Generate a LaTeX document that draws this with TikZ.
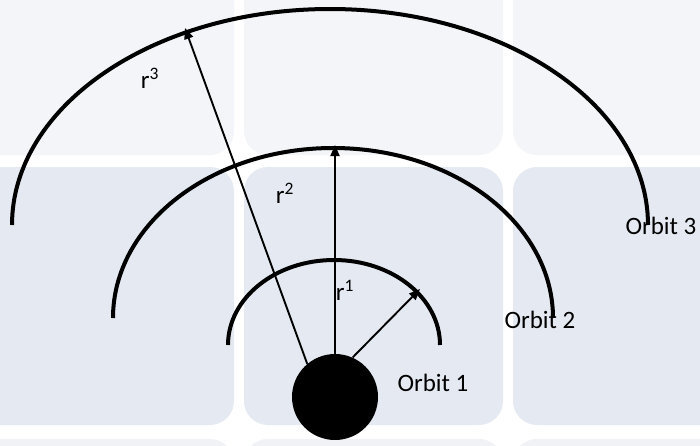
\documentclass[tikz,border=0pt]{standalone}
\usepackage{fontspec}
\setmainfont{Carlito}
\usetikzlibrary{arrows.meta}

\definecolor{tileTop}{HTML}{F3F5F8}
\definecolor{tileMid}{HTML}{E5EAF2}
\definecolor{tileLow}{HTML}{F0F2F6}

\tikzset{
  tile/.style={rounded corners=24pt},
  orbit/.style={line width=4pt},
  radius arrow/.style={line width=1.9pt, -{Triangle[length=11pt,width=9pt]}},
  lbl/.style={font=\fontsize{25}{30}\selectfont, inner sep=0pt},
}

\begin{document}
\begin{tikzpicture}[x=1pt, y=-1pt]
  \useasboundingbox (0,0) rectangle (700,445);

  % -- Background tiles --
  \begin{scope}
    \clip (0,0) rectangle (700,445);
    \fill[white] (0,0) rectangle (700,445);
    \foreach \xa/\xb in {-30/234, 244/503, 513/730}{
      \fill[tile, tileTop] (\xa,-30) rectangle (\xb,155);
      \fill[tile, tileMid] (\xa,167) rectangle (\xb,425);
      \fill[tile, tileLow] (\xa,439) rectangle (\xb,600);
    }
  \end{scope}

  % -- Orbits --
  \draw[orbit] (228,345) arc[start angle=180, end angle=360, x radius=106, y radius=85];
  \draw[orbit] (113,318) arc[start angle=180, end angle=360, x radius=220, y radius=170];
  \draw[orbit] (12,225) arc[start angle=180, end angle=360, x radius=318, y radius=216];

  % -- Central body --
  \node[circle, fill=black, minimum size=86pt, inner sep=0pt] (sun) at (335,397) {};

  % -- Radius arrows --
  \coordinate (tip1) at (420,289);
  \coordinate (tip2) at (335,145);
  \coordinate (tip3) at (185,28);
  \draw[radius arrow] (sun.66) -- (tip1);
  \draw[radius arrow] (sun.north) -- (tip2);
  \draw[radius arrow] (sun.130) -- (tip3);

  % -- Labels --
  \node[lbl] (r1) at (345,290) {r\textsuperscript{1}};
  \node[lbl] (r2) at (285,193) {r\textsuperscript{2}};
  \node[lbl] (r3) at (150,78) {r\textsuperscript{3}};
  \node[lbl] (orbit1) at (433,383) {Orbit 1};
  \node[lbl] (orbit2) at (540,320) {Orbit 2};
  \node[lbl] (orbit3) at (661,226) {Orbit 3};

\end{tikzpicture}
\end{document}
